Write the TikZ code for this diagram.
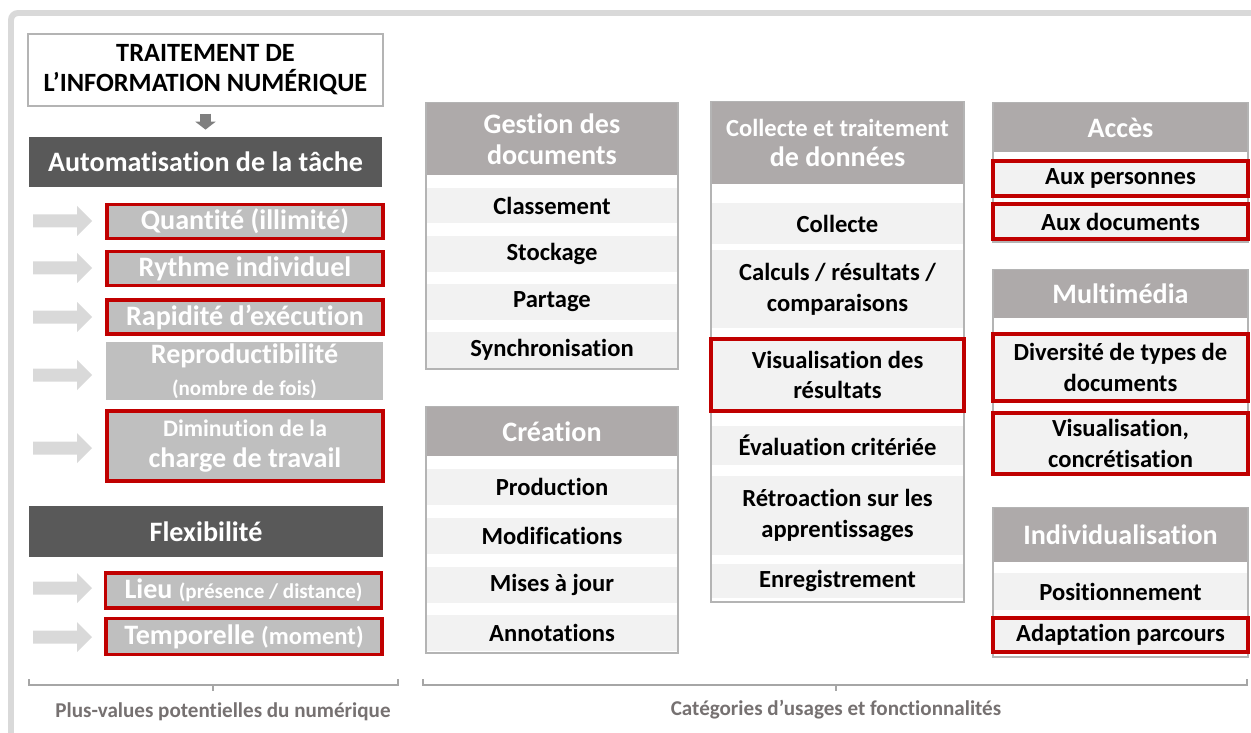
\documentclass[tikz,border=0pt]{standalone}
\usepackage{fontspec}
\setmainfont{Carlito}[Ligatures=NoCommon, RawFeature={-liga;-clig;-dlig}]
\usepackage{tikz}
\usetikzlibrary{positioning, arrows.meta}

\definecolor{framegrey}{HTML}{D9D9D9}
\definecolor{darkhead}{HTML}{595959}
\definecolor{itemgrey}{HTML}{BFBFBF}
\definecolor{accent}{HTML}{C00000}
\definecolor{headgrey}{HTML}{AEAAAA}
\definecolor{rowfill}{HTML}{F2F2F2}
\definecolor{boxline}{HTML}{B4B4B4}
\definecolor{arrowgrey}{HTML}{D9D9D9}
\definecolor{downgrey}{HTML}{7F7F7F}
\definecolor{labelgrey}{HTML}{767171}
\definecolor{bracketgrey}{HTML}{A6A6A6}

\begin{document}
\begin{tikzpicture}[
        x=0.02cm, y=-0.02cm,
        darkbar/.style={rectangle, fill=darkhead, text=white, inner sep=0pt, minimum width=7.08cm, font=\fontsize{16}{18}\selectfont\bfseries},
        gain/.style={rectangle, fill=itemgrey, text=white, inner sep=0pt, align=center, minimum width=5.52cm, font=\fontsize{16}{18}\selectfont\bfseries},
        kept/.style={draw=accent, line width=2pt},
        colbox/.style={rectangle, draw=boxline, line width=1.1pt, fill=white, inner sep=0pt},
        colhead/.style={rectangle, fill=headgrey, text=white, inner sep=0pt, align=center, font=\fontsize{16}{17.6}\selectfont\bfseries},
        usage/.style={rectangle, fill=rowfill, inner sep=0pt, align=center, font=\fontsize{14}{17.5}\selectfont\bfseries},
        bracket/.style={draw=bracketgrey, line width=1pt},
        caption/.style={text=labelgrey, font=\fontsize{12}{14}\selectfont\bfseries}
    ]
    \useasboundingbox (0,0) rectangle (1251,733);

    % outer frame (top and left sides only)
    \draw[framegrey, line width=3.4pt, rounded corners=4pt] (11,733) -- (11,13) -- (1251,13);

    % --------------------------------------------------
    % Plus-values (left column)
    \node[rectangle, draw=boxline, line width=0.8pt, fill=white, minimum width=7.1cm, minimum height=1.44cm,
          align=center, font=\fontsize{15}{17}\selectfont\bfseries] (traite) at (205.5,70) {TRAITEMENT DE\\L’INFORMATION NUMÉRIQUE};
    \node[darkbar, minimum height=1.0cm] (auto) at (205.5,162) {Automatisation de la tâche};
    \draw[downgrey, line width=5.7pt, -{Triangle[width=11.3pt,length=4.5pt]}, shorten <=4pt, shorten >=4pt] (traite) -- (auto);

    % block arrows in front of each gain
    \foreach \y in {221,268,317,375,448,588,637} {
        \fill[arrowgrey] (33,\y-6.5) -- (77,\y-6.5) -- (77,\y-15) -- (92,\y) -- (77,\y+15) -- (77,\y+6.5) -- (33,\y+6.5) -- cycle;
    }

    \node[gain, kept, minimum height=0.68cm] (quant) at (245,221.5) {Quantité (illimité)};
    \node[gain, kept, minimum height=0.68cm] (rythme) at (245,268.5) {Rythme individuel};
    \node[gain, kept, minimum height=0.68cm] (rapid) at (245,317) {Rapidité d’exécution};
    \node[gain, minimum width=5.54cm, minimum height=1.16cm] (repro) at (244.5,371) {Reproductibilité\\{\fontsize{12}{14}\selectfont (nombre de fois)}};
    \node[gain, kept, minimum height=1.4cm] (dimin) at (245,446) {{\fontsize{13.5}{16}\selectfont Diminution de la}\\charge de travail};

    \node[darkbar, minimum height=1.02cm] (flex) at (206,531.5) {Flexibilité};
    \node[gain, kept, minimum height=0.7cm] (lieu) at (243.5,590.5) {Lieu {\fontsize{12}{14}\selectfont (présence / distance)}};
    \node[gain, kept, minimum height=0.72cm] (tempo) at (244,636.5) {Temporelle {\fontsize{14}{16}\selectfont (moment)}};

    % --------------------------------------------------
    % Gestion des documents
    \node[colbox, minimum width=5.04cm, minimum height=5.32cm] (gestbox) at (552,236) {};
    \node[colhead, minimum width=5.0cm, minimum height=1.44cm] (gesthead) at (552,139) {Gestion des\\documents};
    \foreach \yc/\txt [count=\i] in {205.5/Classement, 254/Stockage, 302/Partage, 350/Synchronisation} {
        \node[usage, minimum width=5.0cm, minimum height=0.72cm] (gest\i) at (552,\yc) {\txt};
    }

    % Création
    \node[colbox, minimum width=5.04cm, minimum height=4.92cm] (creabox) at (552,530) {};
    \node[colhead, minimum width=5.0cm, minimum height=0.98cm] (creahead) at (552,431.5) {Création};
    \foreach \yc/\txt [count=\i] in {487/Production, 536/Modifications, 585/Mises à jour, 633/Annotations} {
        \node[usage, minimum width=5.0cm, minimum height=0.72cm] (crea\i) at (552,\yc) {\txt};
    }

    % --------------------------------------------------
    % Collecte et traitement de données
    \node[colbox, minimum width=5.06cm, minimum height=10.0cm] (collbox) at (837.5,352) {};
    \node[colhead, minimum width=5.02cm, minimum height=1.64cm] (collhead) at (837.5,143) {{\fontsize{14}{16}\selectfont Collecte et traitement}\\de données};
    \foreach \yc/\hh/\txt [count=\i] in {223.5/0.82/Collecte, 289/1.56/{Calculs / résultats /\\comparaisons},
            445.5/0.78/Évaluation critériée, 515.5/1.58/{Rétroaction sur les\\apprentissages}, 581/0.68/Enregistrement} {
        \node[usage, minimum width=5.02cm, minimum height=\hh cm] (coll\i) at (837.5,\yc) {\txt};
    }
    \node[usage, kept, minimum width=5.06cm, minimum height=1.44cm] (collvis) at (837.5,375) {Visualisation des\\résultats};

    % --------------------------------------------------
    % Accès
    \node[colbox, minimum width=5.1cm, minimum height=2.78cm] (accbox) at (1120.5,172.5) {};
    \node[colhead, minimum width=5.06cm, minimum height=0.98cm] (acchead) at (1120.5,127.5) {Accès};
    \foreach \yc/\txt [count=\i] in {178.5/Aux personnes, 221.5/Aux documents} {
        \node[usage, kept, minimum width=5.1cm, minimum height=0.7cm] (acc\i) at (1120.5,\yc) {\txt};
    }

    % Multimédia
    \node[colbox, minimum width=5.1cm, minimum height=4.1cm] (multbox) at (1120.5,372.5) {};
    \node[colhead, minimum width=5.06cm, minimum height=0.96cm] (multhead) at (1120.5,294) {Multimédia};
    \foreach \yc/\hh/\txt [count=\i] in {367.5/1.34/{Diversité de types de\\documents}, 443.5/1.22/{Visualisation,\\concrétisation}} {
        \node[usage, kept, minimum width=5.1cm, minimum height=\hh cm] (mult\i) at (1120.5,\yc) {\txt};
    }

    % Individualisation
    \node[colbox, minimum width=5.1cm, minimum height=2.98cm] (indbox) at (1120.5,582.5) {};
    \node[colhead, minimum width=5.06cm, minimum height=1.08cm] (indhead) at (1120.5,535) {Individualisation};
    \node[usage, minimum width=5.06cm, minimum height=0.74cm] (ind1) at (1120.5,591.5) {Positionnement};
    \node[usage, kept, minimum width=5.1cm, minimum height=0.68cm] (ind2) at (1120.5,635) {Adaptation parcours};

    % --------------------------------------------------
    % brackets and captions
    \draw[bracket] (29,679) -- (29,685) -- (398,685) -- (398,679);
    \draw[bracket] (213,685) -- (213,691);
    \draw[bracket] (423,679) -- (423,685) -- (1247,685) -- (1247,679);
    \draw[bracket] (836,685) -- (836,691);
    \node[caption] (plusval) at (223,712) {Plus-values potentielles du numérique};
    \node[caption] (categ) at (836,710) {Catégories d’usages et fonctionnalités};

\end{tikzpicture}
\end{document}
